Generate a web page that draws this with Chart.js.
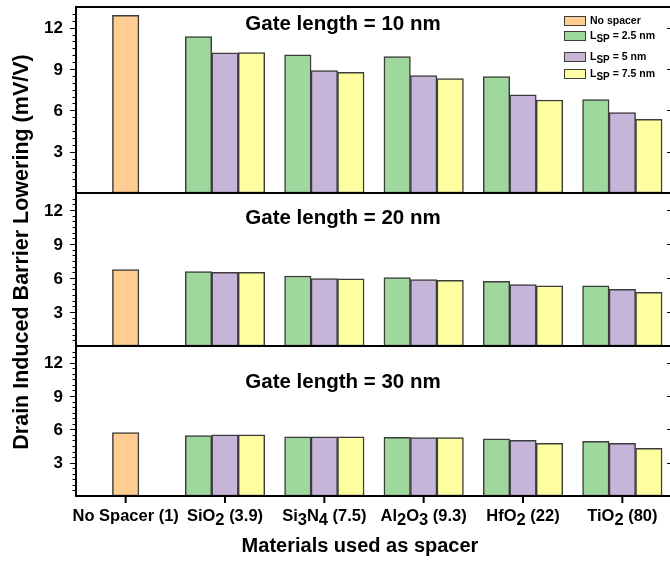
<!DOCTYPE html>
<html>
<head>
<meta charset="utf-8">
<title>DIBL vs spacer material</title>
<script src="https://cdn.jsdelivr.net/npm/chart.js@4.4.1/dist/chart.umd.min.js"></script>
<style>
    html, body { margin: 0; padding: 0; background: #fff; overflow: hidden; }
    #wrap { width: 690px; height: 562px; }
</style>
</head>
<body>
<div id="wrap"><canvas id="dibl-chart" width="690" height="562"></canvas></div>
<script>
// spacer materials (dielectric constant in brackets), "_" marks a subscript
const categories = ['No Spacer (1)', 'SiO_2 (3.9)', 'Si_3N_4 (7.5)', 'Al_2O_3 (9.3)', 'HfO_2 (22)', 'TiO_2 (80)'];
const seriesLabels = ['No spacer', 'L_{SP} = 2.5 nm', 'L_{SP} = 5 nm', 'L_{SP} = 7.5 nm'];
const gateTitles = ['Gate length = 10 nm', 'Gate length = 20 nm', 'Gate length = 30 nm'];
const yTicks = [3, 6, 9, 12];
const yMax = 13.5;

// DIBL (mV/V), gate length 10 nm
const noSpacer10 = [12.9, null, null, null, null, null];
const lsp25_10 = [null, 11.35, 10.02, 9.9, 8.45, 6.78];
const lsp5_10 = [null, 10.17, 8.88, 8.52, 7.12, 5.83];
const lsp75_10 = [null, 10.19, 8.76, 8.3, 6.75, 5.35];

// gate length 20 nm
const noSpacer20 = [6.74, null, null, null, null, null];
const lsp25_20 = [null, 6.57, 6.18, 6.03, 5.71, 5.3];
const lsp5_20 = [null, 6.51, 5.95, 5.86, 5.41, 5.0];
const lsp75_20 = [null, 6.49, 5.92, 5.8, 5.3, 4.74];

// gate length 30 nm
const noSpacer30 = [5.7, null, null, null, null, null];
const lsp25_30 = [null, 5.43, 5.32, 5.29, 5.14, 4.93];
const lsp5_30 = [null, 5.5, 5.32, 5.26, 5.02, 4.75];
const lsp75_30 = [null, 5.5, 5.32, 5.26, 4.75, 4.3];

const FONT = "'Liberation Sans', Arial, Helvetica, sans-serif";
const fills = ['#ffcc91', '#9fd89c', '#c6b5d8', '#ffffa2'];
const stackIds = ['none', 'lsp25', 'lsp5', 'lsp75'];
const panelAxes = ['yTop', 'yMid', 'yBot'];
const titleOffsets = [17, 25, 36];

const panels = [
    [noSpacer10, lsp25_10, lsp5_10, lsp75_10],
    [noSpacer20, lsp25_20, lsp5_20, lsp75_20],
    [noSpacer30, lsp25_30, lsp5_30, lsp75_30]
];

const datasets = [];
panels.forEach((series, p) => {
    series.forEach((values, s) => {
        datasets.push({
            label: seriesLabels[s],
            data: values,
            yAxisID: panelAxes[p],
            stack: stackIds[s],
            backgroundColor: fills[s],
            borderColor: '#3c3c3c',
            borderWidth: 1.5,
            borderSkipped: false,
            barThickness: 26.5,
            skipNull: true
        });
    });
});

function yAxis(weight, stackWeight) {
    return {
        type: 'linear',
        position: 'left',
        stack: 'panels',
        stackWeight: stackWeight,
        weight: weight,
        stacked: false,
        min: 0,
        max: yMax,
        grid: { display: false, drawTicks: false },
        border: { display: false },
        ticks: { display: false },
        afterFit: scale => { scale.width = 76; }
    };
}

// split "SiO_2" / "L_{SP}" into plain and subscript runs
function parseRich(str) {
    const parts = [];
    const re = /_\{([^}]*)\}|_(.)/g;
    let last = 0, m;
    while ((m = re.exec(str))) {
        if (m.index > last) parts.push({ t: str.slice(last, m.index), sub: false });
        parts.push({ t: m[1] || m[2], sub: true });
        last = re.lastIndex;
    }
    if (last < str.length) parts.push({ t: str.slice(last), sub: false });
    return parts;
}

function drawRich(ctx, str, x, y, size, subSize, subDrop, align) {
    const parts = parseRich(str);
    let width = 0;
    parts.forEach(p => {
        ctx.font = `bold ${p.sub ? subSize : size}px ${FONT}`;
        p.w = ctx.measureText(p.t).width;
        width += p.w;
    });
    let cx = align === 'center' ? x - width / 2 : x;
    ctx.textAlign = 'left';
    parts.forEach(p => {
        ctx.font = `bold ${p.sub ? subSize : size}px ${FONT}`;
        ctx.fillText(p.t, cx, y + (p.sub ? subDrop : 0));
        cx += p.w;
    });
}

const panelFrame = {
    id: 'panelFrame',
    afterDatasetsDraw(chart) {
        const ctx = chart.ctx;
        const area = chart.chartArea;
        ctx.save();
        ctx.strokeStyle = '#000';
        ctx.fillStyle = '#000';

        panelAxes.forEach(id => {
            const sc = chart.scales[id];
            // minor ticks every 0.5, majors on the labelled values
            ctx.lineWidth = 1;
            for (let v = 0.5; v < yMax; v += 0.5) {
                const y = Math.round(sc.getPixelForValue(v)) + 0.5;
                const major = yTicks.includes(v);
                ctx.beginPath();
                ctx.moveTo(area.left, y);
                ctx.lineTo(area.left - (major ? 6 : 3.5), y);
                ctx.stroke();
                if (major) {
                    ctx.beginPath();
                    ctx.moveTo(area.right, y);
                    ctx.lineTo(area.right - 5, y);
                    ctx.stroke();
                }
            }
            ctx.lineWidth = 2;
            ctx.strokeRect(area.left, sc.top, area.right - area.left, sc.bottom - sc.top);

            ctx.font = `bold 17px ${FONT}`;
            ctx.textAlign = 'right';
            ctx.textBaseline = 'middle';
            yTicks.forEach(v => {
                ctx.fillText(String(v), area.left - 13, sc.getPixelForValue(v) + 1);
            });
        });

        // category ticks under the bottom panel
        const xs = chart.scales.x;
        ctx.lineWidth = 2;
        categories.forEach((c, i) => {
            const x = xs.getPixelForValue(i);
            ctx.beginPath();
            ctx.moveTo(x, area.bottom);
            ctx.lineTo(x, area.bottom + 7);
            ctx.stroke();
        });
        ctx.restore();
    },
    afterDraw(chart) {
        const ctx = chart.ctx;
        const area = chart.chartArea;
        const xs = chart.scales.x;
        ctx.save();
        ctx.fillStyle = '#000';
        ctx.textBaseline = 'alphabetic';

        categories.forEach((c, i) => {
            drawRich(ctx, c, xs.getPixelForValue(i), area.bottom + 24.5, 16.5, 16.5, 4, 'center');
        });

        ctx.font = `bold 20px ${FONT}`;
        ctx.textAlign = 'center';
        ctx.fillText('Materials used as spacer', 360, 552);

        ctx.save();
        ctx.translate(22, 252);
        ctx.rotate(-Math.PI / 2);
        ctx.textBaseline = 'middle';
        ctx.font = `bold 21.5px ${FONT}`;
        ctx.fillText('Drain Induced Barrier Lowering (mV/V)', 0, 0);
        ctx.restore();

        // gate length labels inside each panel
        ctx.font = `bold 20.5px ${FONT}`;
        ctx.textAlign = 'center';
        ctx.textBaseline = 'middle';
        panelAxes.forEach((id, p) => {
            ctx.fillText(gateTitles[p], 343, chart.scales[id].top + titleOffsets[p]);
        });

        // legend
        const rows = [21, 36, 57, 74];
        ctx.textBaseline = 'middle';
        seriesLabels.forEach((label, s) => {
            ctx.fillStyle = fills[s];
            ctx.fillRect(564, rows[s] - 5, 22, 10);
            ctx.strokeStyle = '#3c3c3c';
            ctx.lineWidth = 1;
            ctx.strokeRect(564.5, rows[s] - 4.5, 21, 9);
            ctx.fillStyle = '#000';
            drawRich(ctx, label, 590, rows[s], 10.5, 10, 3, 'left');
        });
        ctx.restore();
    }
};

const chart = new Chart(document.getElementById('dibl-chart'), {
    type: 'bar',
    data: { labels: categories, datasets: datasets },
    options: {
        responsive: false,
        animation: false,
        devicePixelRatio: 1,
        layout: { padding: { top: 7, right: 18, bottom: 0, left: 0 } },
        plugins: {
            legend: { display: false },
            tooltip: { enabled: false }
        },
        scales: {
            x: {
                type: 'category',
                grid: { display: false },
                border: { display: false },
                ticks: { display: false },
                afterFit: scale => { scale.height = 66; }
            },
            yTop: yAxis(3, 186),
            yMid: yAxis(2, 153),
            yBot: yAxis(1, 150)
        }
    },
    plugins: [panelFrame]
});
</script>
</body>
</html>
